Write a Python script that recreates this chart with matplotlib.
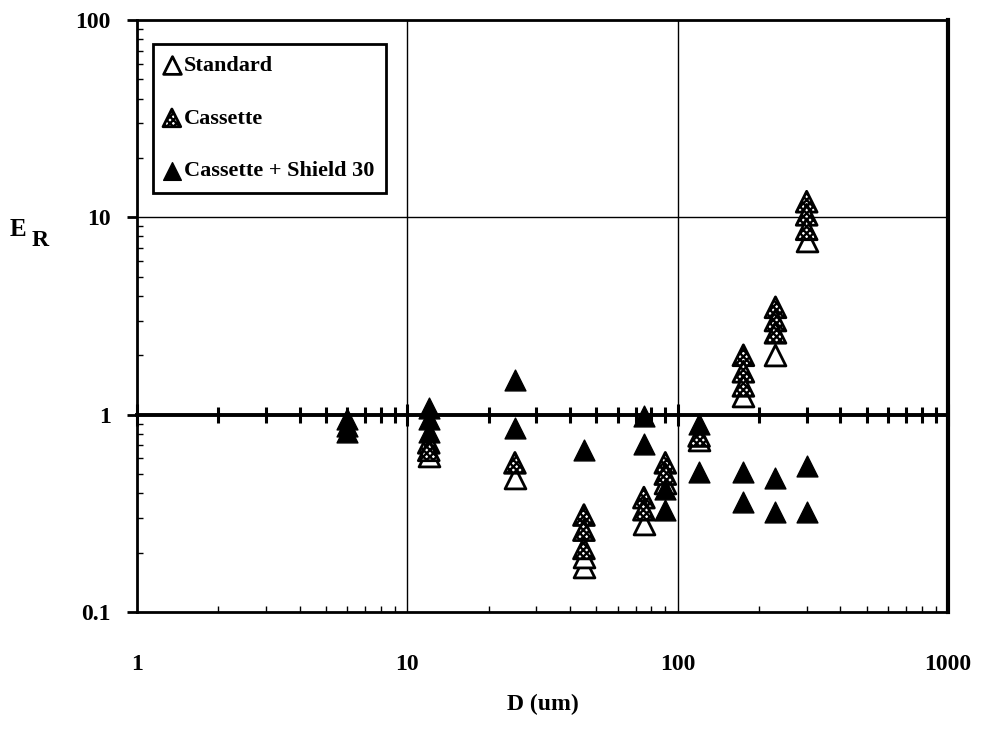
import matplotlib.pyplot as plt
from matplotlib.ticker import LogLocator, NullFormatter, FixedFormatter, FixedLocator

# particle diameter (um) and E_R for each configuration
std_d = [12, 25, 45, 45, 75, 90, 120, 175, 230, 300]
std_er = [0.62, 0.48, 0.17, 0.19, 0.28, 0.45, 0.74, 1.25, 2.0, 7.6]

cas_d = [12, 12, 25, 45, 45, 45, 75, 75, 90, 90, 120, 175, 175, 175,
         230, 230, 230, 300, 300, 300]
cas_er = [0.72, 0.66, 0.57, 0.31, 0.26, 0.21, 0.38, 0.33, 0.57, 0.50, 0.78,
          2.0, 1.65, 1.4, 3.5, 3.0, 2.6, 12.0, 10.3, 8.7]

shd_d = [6, 6, 6, 12, 12, 12, 25, 25, 45, 75, 75, 90, 90, 120, 120,
         175, 175, 230, 230, 300, 300]
shd_er = [0.95, 0.88, 0.82, 1.08, 0.95, 0.82, 1.5, 0.86, 0.66, 0.99, 0.71,
          0.42, 0.33, 0.90, 0.51, 0.51, 0.36, 0.48, 0.32, 0.55, 0.32]

labels = ['Standard', 'Cassette', 'Cassette + Shield 30']
x_ticks = [1, 10, 100, 1000]
y_ticks = [0.1, 1, 10, 100]

plt.rcParams['font.family'] = ['Liberation Serif', 'DejaVu Serif']
plt.rcParams['font.weight'] = 'bold'
plt.rcParams['hatch.linewidth'] = 1.7

fig = plt.figure(figsize=(9.9, 7.38), dpi=100)
ax = fig.add_axes([0.1384, 0.1707, 0.8192, 0.8022])
ax.set_xscale('log')
ax.set_yscale('log')
ax.set_xlim(1, 1000)
ax.set_ylim(0.1, 100)

# grid: thin lines at the inner decades, heavy line at E_R = 1
for xv in [10, 100]:
    ax.axvline(xv, color='k', lw=1, zorder=1)
ax.axhline(10, color='k', lw=1, zorder=1)
sec = ax.secondary_xaxis(1 / 3)
sec.spines['bottom'].set_linewidth(2.8)
sec.spines['top'].set_linewidth(2.8)
sec.xaxis.set_major_locator(FixedLocator(x_ticks))
sec.xaxis.set_minor_locator(LogLocator(base=10, subs=range(2, 10)))
sec.xaxis.set_major_formatter(NullFormatter())
sec.xaxis.set_minor_formatter(NullFormatter())
sec.tick_params(which='major', direction='inout', length=16, width=2.2)
sec.tick_params(which='minor', direction='inout', length=12, width=2.2)

ms = 15
ax.scatter(std_d, std_er, marker='^', s=ms ** 2, facecolor='white',
           edgecolor='black', linewidths=2, label=labels[0], zorder=3)
ax.scatter(cas_d, cas_er, marker='^', s=ms ** 2, facecolor='white',
           edgecolor='black', linewidths=2, hatch='xxxxx', label=labels[1], zorder=4)
ax.scatter(shd_d, shd_er, marker='^', s=ms ** 2, facecolor='black',
           edgecolor='black', linewidths=1, label=labels[2], zorder=5)

for s in ax.spines.values():
    s.set_linewidth(2)
ax.spines['right'].set_linewidth(3)

ax.xaxis.set_major_locator(FixedLocator(x_ticks))
ax.xaxis.set_major_formatter(FixedFormatter(['1', '10', '100', '1000']))
ax.xaxis.set_minor_locator(LogLocator(base=10, subs=range(2, 10)))
ax.xaxis.set_minor_formatter(NullFormatter())
ax.yaxis.set_major_locator(FixedLocator(y_ticks))
ax.yaxis.set_major_formatter(FixedFormatter(['0.1', '1', '10', '100']))
ax.yaxis.set_minor_locator(LogLocator(base=10, subs=range(2, 10)))
ax.yaxis.set_minor_formatter(NullFormatter())
ax.tick_params(axis='x', which='major', direction='in', length=0, pad=30, labelsize=17)
ax.tick_params(axis='x', which='minor', direction='in', length=4, width=1)
ax.tick_params(axis='y', which='major', direction='out', length=7, width=2, pad=12,
               labelsize=17)
ax.tick_params(axis='y', which='minor', direction='in', length=4, width=1)

ax.set_xlabel('D (um)', fontsize=17, fontweight='bold', labelpad=14)
fig.text(10, 738 - 230, 'E', transform=None, fontsize=18, fontweight='bold',
         va='center', ha='left')
fig.text(32, 738 - 240, 'R', transform=None, fontsize=17, fontweight='bold',
         va='center', ha='left')

leg = ax.legend(loc='upper left', bbox_to_anchor=(0.0197, 0.959), borderaxespad=0,
                fancybox=False, edgecolor='black', framealpha=1,
                prop={'size': 16, 'weight': 'bold'}, labelspacing=1.45,
                handlelength=0.7, handletextpad=0.2, borderpad=0.5,
                markerscale=0.85)
leg.get_frame().set_linewidth(2)

fig.savefig('out.png', dpi=100)
